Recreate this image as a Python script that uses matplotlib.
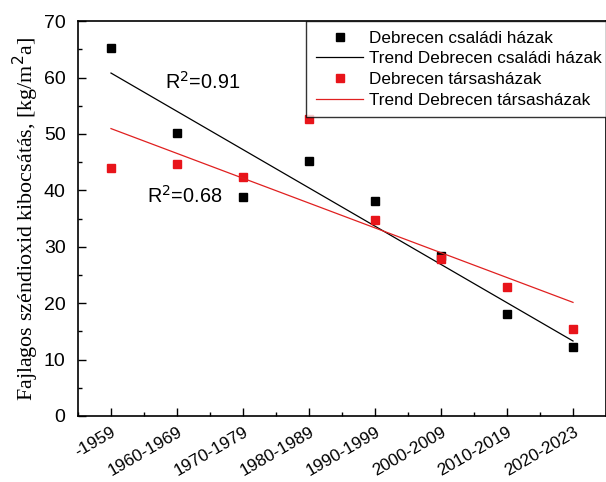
import numpy as np
import matplotlib
matplotlib.use("Agg")
import matplotlib.pyplot as plt
from matplotlib.ticker import MultipleLocator, FixedLocator

# data
periods = ["-1959", "1960-1969", "1970-1979", "1980-1989",
           "1990-1999", "2000-2009", "2010-2019", "2020-2023"]
csaladi = [65.2, 50.2, 38.9, 45.3, 38.2, 28.3, 18.0, 12.3]
tarsas = [44.0, 44.6, 42.3, 52.6, 34.8, 27.8, 22.8, 15.5]

plt.rcParams["font.family"] = ["Liberation Sans", "DejaVu Sans"]

x = np.arange(len(periods))
fit_c = np.polyfit(x, csaladi, 1)
fit_t = np.polyfit(x, tarsas, 1)

fig = plt.figure(figsize=(6.06, 4.82), dpi=100)
ax = fig.add_axes([0.1287, 0.137, 0.8713, 0.819])

ax.plot(x, csaladi, "s", color="black", markersize=6.2, linestyle="none",
        label="Debrecen családi házak")
ax.plot(x, np.polyval(fit_c, x), color="black", linewidth=0.9,
        label="Trend Debrecen családi házak")
ax.plot(x, tarsas, "s", color="#e8141a", markersize=6.2, linestyle="none",
        label="Debrecen társasházak")
ax.plot(x, np.polyval(fit_t, x), color="#e02020", linewidth=0.9,
        label="Trend Debrecen társasházak")

ax.text(0.82, 59.2, "R$^2$=0.91", fontsize=14.3, va="center", ha="left")
ax.text(0.55, 39.0, "R$^2$=0.68", fontsize=14.3, va="center", ha="left")

ax.set_xlim(-0.5, 7.5)
ax.set_ylim(0, 70)
ax.yaxis.set_major_locator(MultipleLocator(10))
ax.yaxis.set_minor_locator(MultipleLocator(5))
ax.set_xticks(x)
ax.set_xticklabels(periods, rotation=30, ha="right", va="top",
                   rotation_mode="anchor", fontsize=12.4)
ax.xaxis.set_minor_locator(FixedLocator(np.arange(-0.5, 8, 1.0)))
ax.tick_params(axis="both", which="major", direction="in", length=6,
               width=1, labelsize=14)
ax.tick_params(axis="y", which="major", pad=9)
ax.tick_params(axis="x", which="major", labelsize=12.4, pad=6)
ax.tick_params(axis="both", which="minor", direction="in", length=3, width=1)
for s in ax.spines.values():
    s.set_linewidth(1.2)

ax.set_ylabel("Fajlagos széndioxid kibocsátás, [kg/m$^2$a]",
              family=["Liberation Serif", "DejaVu Serif"], fontsize=15.8,
              labelpad=2)

leg = ax.legend(loc="upper right", bbox_to_anchor=(1.009, 1.0), fontsize=12.3,
                frameon=True, fancybox=False, edgecolor="black",
                handlelength=2.8, handletextpad=0.3, labelspacing=0.34,
                borderaxespad=0, borderpad=0.55)
leg.get_frame().set_linewidth(1.0)

fig.savefig("out.png", dpi=100)
